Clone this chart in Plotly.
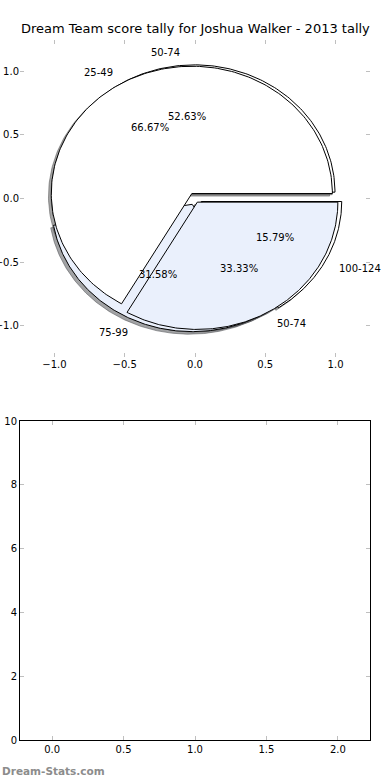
import numpy as np
import plotly.graph_objects as go

title = "Dream Team score tally for Joshua Walker - 2013 tally"
watermark = "Dream-Stats.com"

# first pie (drawn underneath)
pie1_labels = ["50-74", "75-99", "100-124"]
pie1_values = [10, 6, 3]
# second pie (drawn on top)
pie2_labels = ["25-49", "50-74"]
pie2_values = [2, 1]

top_ticks = [-1.0, -0.5, 0.0, 0.5, 1.0]
bottom_xticks = [0.0, 0.5, 1.0, 1.5, 2.0]
bottom_yticks = [0, 2, 4, 6, 8, 10]

# styles
WHITE = (255, 255, 255)
BLUE = (234, 240, 252)
pie1_colors = [WHITE, BLUE, WHITE]
pie2_colors = [WHITE, BLUE]
pie1_explode = [0.05, 0.05, 0.05]
pie2_explode = [0.045, 0.033]
FONT = "DejaVu Sans"


def wedge_xy(t1, t2, cx, cy, r=1.0):
    th = np.radians(np.linspace(t1, t2, 200))
    xs = np.concatenate([[cx], cx + r * np.cos(th), [cx]])
    ys = np.concatenate([[cy], cy + r * np.sin(th), [cy]])
    return xs, ys


def pie_geometry(values, explode):
    total = float(sum(values))
    out = []
    theta1 = 0.0
    for v, e in zip(values, explode):
        theta2 = theta1 + 360.0 * v / total
        tm = np.radians((theta1 + theta2) / 2)
        cx, cy = e * np.cos(tm), e * np.sin(tm)
        out.append((theta1, theta2, tm, cx, cy, 100.0 * v / total))
        theta1 = theta2
    return out


geo1 = pie_geometry(pie1_values, pie1_explode)
geo2 = pie_geometry(pie2_values, pie2_explode)

fig = go.Figure()


def rgb(c):
    return "rgb(%d,%d,%d)" % c


def shadow_rgba(c):
    return "rgba(%d,%d,%d,0.5)" % tuple(int(round(0.3 * k)) for k in c)


# shadows (below all wedges)
for geo, cols in ((geo1, pie1_colors), (geo2, pie2_colors)):
    for (t1, t2, tm, cx, cy, pct), col in zip(geo, cols):
        xs, ys = wedge_xy(t1, t2, cx - 0.02, cy - 0.02)
        fig.add_trace(go.Scatter(x=xs, y=ys, mode="lines", fill="toself",
                                 fillcolor=shadow_rgba(col),
                                 line=dict(color=shadow_rgba(col), width=1),
                                 hoverinfo="skip", showlegend=False,
                                 xaxis="x", yaxis="y"))

# wedges
for geo, cols in ((geo1, pie1_colors), (geo2, pie2_colors)):
    for (t1, t2, tm, cx, cy, pct), col in zip(geo, cols):
        xs, ys = wedge_xy(t1, t2, cx, cy)
        fig.add_trace(go.Scatter(x=xs, y=ys, mode="lines", fill="toself",
                                 fillcolor=rgb(col),
                                 line=dict(color="black", width=1),
                                 hoverinfo="skip", showlegend=False,
                                 xaxis="x", yaxis="y"))

# empty second panel
fig.add_trace(go.Scatter(x=[], y=[], mode="markers", showlegend=False,
                         xaxis="x2", yaxis="y2"))

annotations = []
for geo, labels in ((geo1, pie1_labels), (geo2, pie2_labels)):
    for (t1, t2, tm, cx, cy, pct), lab in zip(geo, labels):
        xt = cx + 1.1 * np.cos(tm)
        yt = cy + 1.1 * np.sin(tm)
        annotations.append(dict(x=xt, y=yt, xref="x", yref="y", text=lab,
                                showarrow=False, xanchor="left" if xt > 0 else "right",
                                yanchor="middle", font=dict(size=10, color="black", family=FONT)))
        xp = cx + 0.6 * np.cos(tm)
        yp = cy + 0.6 * np.sin(tm)
        annotations.append(dict(x=xp, y=yp, xref="x", yref="y", text="%.2f%%" % pct,
                                showarrow=False, xanchor="center", yanchor="middle",
                                font=dict(size=10, color="black", family=FONT)))

annotations.append(dict(x=0.5, y=1 - 29 / 780, xref="paper", yref="paper", text=title,
                        showarrow=False, xanchor="center", yanchor="middle",
                        font=dict(size=13, color="black", family=FONT)))
annotations.append(dict(x=-20 / 350, y=9 / 780, xref="paper", yref="paper", text="<b>" + watermark + "</b>",
                        showarrow=False, xanchor="left", yanchor="middle",
                        font=dict(size=10.5, color="#8c8c8c", family=FONT)))


def fmt(v):
    return ("%.1f" % v).replace("-", "\u2212")


tick_common = dict(ticks="inside", ticklen=4, tickwidth=1, tickcolor="#bfbfbf",
                   showgrid=False, zeroline=False, automargin=False,
                   tickfont=dict(size=10, color="black", family=FONT))

fig.update_layout(
    width=390, height=780,
    margin=dict(l=20, r=20, t=0, b=0, autoexpand=False),
    paper_bgcolor="white", plot_bgcolor="white",
    showlegend=False,
    annotations=annotations,
    xaxis=dict(domain=[0, 1], anchor="y", range=[-1.245, 1.245],
               tickvals=top_ticks, ticktext=[fmt(v) for v in top_ticks],
               showline=False, mirror="ticks", **tick_common),
    yaxis=dict(domain=[1 - 357 / 780, 1 - 40 / 780], anchor="x", range=[-1.245, 1.245],
               tickvals=top_ticks, ticktext=[fmt(v) for v in top_ticks],
               showline=False, mirror="ticks", **tick_common),
    xaxis2=dict(domain=[0, 1], anchor="y2", range=[-0.225, 2.225],
                tickvals=bottom_xticks, ticktext=[fmt(v) for v in bottom_xticks],
                showline=True, linecolor="black", linewidth=1, mirror="ticks", **tick_common),
    yaxis2=dict(domain=[1 - 740 / 780, 1 - 421 / 780], anchor="x2", range=[0, 10],
                tickvals=bottom_yticks, ticktext=[str(v) for v in bottom_yticks],
                showline=True, linecolor="black", linewidth=1, mirror="ticks", **tick_common),
)

fig.write_html("out.html", config={"displayModeBar": False},
               post_script="document.body.style.margin='0';")
